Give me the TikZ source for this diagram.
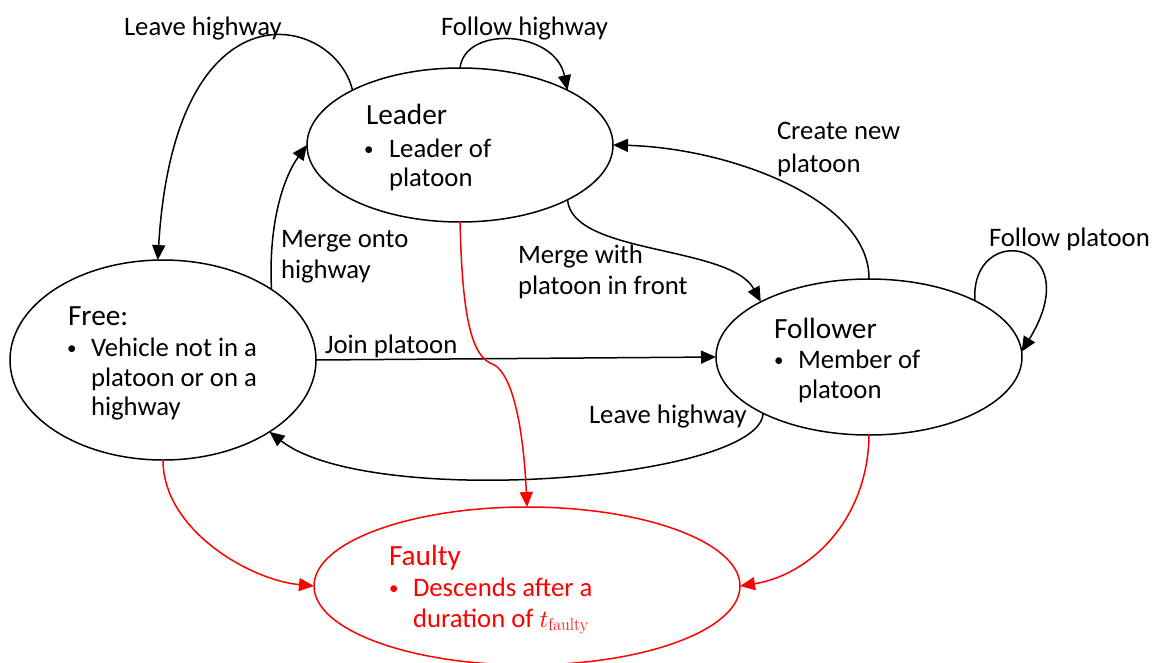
\documentclass[tikz,border=0pt]{standalone}
\usepackage[no-math]{fontspec}
\setmainfont{Carlito}
\usetikzlibrary{arrows.meta,shapes.geometric}
\newcommand{\bodyfnt}{\fontsize{26.7}{32}\selectfont}
\newcommand{\ttlfnt}{\fontsize{29.3}{35}\selectfont}
\newcommand{\bulfnt}{\fontsize{19}{21}\selectfont}
\tikzset{
  state/.style={draw, ellipse, line width=1.5pt, inner sep=0pt, outer sep=0pt},
  lbl/.style={anchor=base west, inner sep=0pt, outer sep=0pt, font=\bodyfnt},
  ttl/.style={anchor=base west, inner sep=0pt, outer sep=0pt, font=\ttlfnt},
  bul/.style={anchor=base west, inner sep=0pt, outer sep=0pt, font=\bulfnt},
  edge/.style={-{Triangle[length=15pt,width=13pt]}, line width=1.5pt},
  redge/.style={edge, red}
}
\begin{document}
\begin{tikzpicture}[x=1pt,y=-1pt]
\useasboundingbox[fill=white] (0,0) rectangle (1165,662);
% states
\node[state, minimum width=306pt, minimum height=154pt] (L) at (460,145) {};
\node[state, minimum width=306pt, minimum height=200pt] (F) at (163,360) {};
\node[state, minimum width=306pt, minimum height=156pt] (W) at (869,357) {};
\node[state, red, minimum width=426pt, minimum height=158pt] (X) at (527,586) {};
% state texts
\node[ttl] (Lt) at (366,124) {Leader};
\node[bul] (Lb) at (364,155) {•};
\node[lbl] (L1) at (389,157) {Leader of};
\node[lbl] (L2) at (389,186) {platoon};
\node[ttl] (Ft) at (68,325) {Free:};
\node[bul] (Fb) at (67,354) {•};
\node[lbl] (F1) at (91,356) {Vehicle not in a};
\node[lbl] (F2) at (91,386) {platoon or on a};
\node[lbl] (F3) at (91,415) {highway};
\node[ttl] (Wt) at (774,338) {Follower};
\node[bul] (Wb) at (774,366) {•};
\node[lbl] (W1) at (798,368) {Member of};
\node[lbl] (W2) at (798,398) {platoon};
\node[ttl, red] (Xt) at (389,565) {Faulty};
\node[bul, red] (Xb) at (389,594) {•};
\node[lbl, red] (X1) at (413,596) {Descends after a};
\node[lbl, red] (X2) at (413,627) {duration of $t_{\mathrm{faulty}}$};
% edge labels
\node[lbl] (e1) at (124,35) {Leave highway};
\node[lbl] (e2) at (441,35) {Follow highway};
\node[lbl] (e3) at (777,139) {Create new};
\node[lbl] (e3b) at (777,172) {platoon};
\node[lbl] (e4) at (281,247) {Merge onto};
\node[lbl] (e4b) at (281,278) {highway};
\node[lbl] (e5) at (518,263) {Merge with};
\node[lbl] (e5b) at (518,294) {platoon in front};
\node[lbl] (e6) at (989,246) {Follow platoon};
\node[lbl] (e7) at (325,353) {Join platoon};
\node[lbl] (e8) at (589,423) {Leave highway};
% connectors
\draw[edge] (L.153) .. controls (335,15) and (175,-25) .. (F.93);
\draw[edge] (L.90) .. controls (465,25) and (555,30) .. (L.27);
\draw[edge] (F.33) .. controls (268,220) and (285,175) .. (L.180);
\draw[edge] (L.333) .. controls (572,255) and (730,245) .. (W.153);
\draw[edge] (W.90) .. controls (870,200) and (730,148) .. (L.0);
\draw[edge] (W.28) .. controls (970,220) and (1090,240) .. (W.2);
\draw[edge] (F.east) -- (W.west);
\draw[edge] (W.208) .. controls (760,480) and (370,510) .. (F.326);
\coordinate (kink) at (490,363);
\draw[redge] (L.270) .. controls (462,300) and (468,352) .. (kink)
  .. controls (515,370) and (524,440) .. (X.90);
\draw[redge] (F.270) .. controls (163,530) and (250,580) .. (X.180);
\draw[redge] (W.270) .. controls (868,520) and (810,575) .. (X.0);
\end{tikzpicture}
\end{document}
